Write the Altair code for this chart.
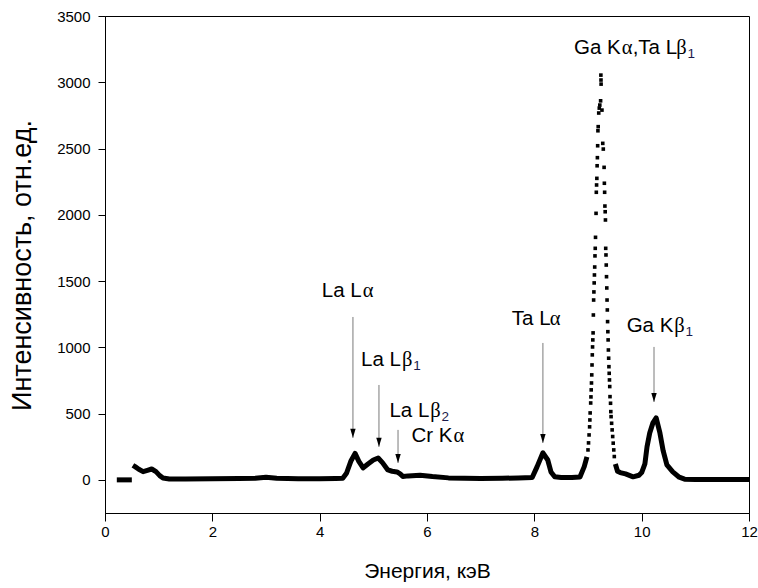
import altair as alt
import pandas as pd

# ---------------- data ----------------
# short zero-level stretch before the trace starts
seg0_energy = [0.22, 0.50]
seg0_counts = [0, 0]
# continuous trace, left of the Ga Ka peak
seg1_energy = [0.52, 0.56, 0.63, 0.71, 0.79, 0.87, 0.95, 1.02,
               1.08, 1.2, 1.5, 2.0, 2.5, 2.8, 3.0, 3.2, 3.6, 4.0,
               4.3, 4.43, 4.50, 4.58, 4.66, 4.73, 4.81, 4.90, 5.00, 5.09,
               5.17, 5.27, 5.35, 5.44, 5.50, 5.55, 5.65, 5.87, 6.1, 6.4,
               6.7, 7.0, 7.4, 7.7, 7.96, 8.05, 8.16, 8.25, 8.31, 8.38,
               8.5, 8.7, 8.85, 8.93, 8.98]
seg1_counts = [110, 100, 80, 62, 72, 82, 62, 32,
               14, 6, 6, 8, 10, 12, 20, 12, 8, 8,
               10, 12, 50, 140, 200, 140, 90, 120, 150, 165,
               130, 75, 65, 60, 45, 25, 30, 35, 25, 15,
               12, 10, 12, 15, 18, 98, 204, 150, 60, 23,
               18, 18, 22, 100, 173]
# continuous trace, right of the Ga Ka peak
seg2_energy = [9.51, 9.55, 9.6, 9.7, 9.84, 9.95, 10.0, 10.06, 10.1, 10.15,
               10.21, 10.27, 10.34, 10.4, 10.47, 10.58, 10.7, 10.8, 11.0, 11.5, 12.0]
seg2_counts = [120, 65, 55, 45, 23, 35, 55, 120, 250, 354,
               430, 468, 354, 220, 113, 60, 20, 5, 3, 2, 2]
# individual samples of the Ga Ka / Ta Lb1 peak (appear as separate dots)
peak_energy = [9.00, 9.01, 9.02, 9.03, 9.035, 9.04, 9.05, 9.055, 9.06, 9.065,
               9.07, 9.075, 9.08, 9.085, 9.09, 9.095, 9.10, 9.105, 9.11, 9.115,
               9.12, 9.125, 9.13, 9.135, 9.14, 9.15, 9.155, 9.16, 9.165, 9.17,
               9.175, 9.18, 9.185, 9.19, 9.20, 9.21, 9.22,
               9.235, 9.24, 9.242, 9.244, 9.26,
               9.275, 9.285, 9.30, 9.305, 9.31, 9.315, 9.32, 9.325, 9.33, 9.335,
               9.34, 9.345, 9.35, 9.355, 9.36, 9.365, 9.37, 9.375, 9.38, 9.385,
               9.39, 9.395, 9.40, 9.405, 9.41, 9.42, 9.425, 9.43, 9.44, 9.45,
               9.46, 9.47, 9.48, 9.49]
peak_counts = [226, 279, 339, 400, 452, 505, 580, 626, 679, 731,
               792, 867, 943, 1003, 1056, 1109, 1244, 1357, 1418, 1486,
               1546, 1606, 1690, 1747, 1830, 2011, 2170, 2225, 2275, 2370,
               2431, 2521, 2634, 2665, 2768, 2805, 2828,
               2860, 3054, 3017, 2986, 2790,
               2539, 2496, 2358, 2238, 2170, 2066, 2023, 1961, 1747, 1697,
               1621, 1533, 1448, 1357, 1282, 1194, 1118, 1056, 980, 918,
               854, 804, 754, 704, 628, 578, 515, 477, 427, 377,
               327, 277, 226, 176]

# annotation arrows
arrow_energy = [4.62, 5.105, 5.46, 8.16, 10.23]
arrow_from = [1229, 716, 377, 1033, 1003]
arrow_to = [317, 249, 128, 279, 588]

# annotation labels: anchor (left edge, baseline) and text parts
label_energy = [4.04, 4.77, 5.30, 5.71, 7.58, 9.72, 8.74]
label_counts = [1378, 858, 477, 284, 1167, 1117, 3213]
label_parts = [
    [("La L", "sans"), ("α", "greek")],
    [("La L", "sans"), ("β", "greek"), ("1", "sub")],
    [("La L", "sans"), ("β", "greek"), ("2", "sub")],
    [("Cr K", "sans"), ("α", "greek")],
    [("Ta L", "sans"), ("α", "greek")],
    [("Ga K", "sans"), ("β", "greek"), ("1", "sub")],
    [("Ga K", "sans"), ("α", "greek"), (",Ta L", "sans"), ("β", "greek"), ("1", "sub")],
]

x_ticks = [0, 2, 4, 6, 8, 10, 12]
y_ticks = [0, 500, 1000, 1500, 2000, 2500, 3000, 3500]

# ---------------- styling ----------------
SANS = "Liberation Sans"
SERIF = "Liberation Serif"
ANN_FS = 20.5
GREEK_FS = 20.5
SUB_FS = 13.5
ARIAL_W = {'L': .556, 'a': .556, ' ': .278, 'T': .611, 'G': .778, 'K': .667,
           'C': .722, 'r': .333, ',': .278, '1': .556, '2': .556}
KERN = {'Ta': -.2}
GREEK_W = {'α': .53, 'β': .50}


def part_width(text, kind):
    if kind == "sans":
        w = sum(ARIAL_W[c] for c in text)
        w += sum(KERN.get(text[i:i + 2], 0) for i in range(len(text) - 1))
        return w * ANN_FS
    if kind == "greek":
        return sum(GREEK_W[c] for c in text) * GREEK_FS
    return sum(ARIAL_W[c] for c in text) * SUB_FS


xs = alt.Scale(domain=[0, 12], nice=False, zero=False)
ys = alt.Scale(domain=[-250, 3500], nice=False, zero=False)

x_axis = alt.Axis(title="Энергия, кэВ", values=x_ticks, format="d", grid=False,
                  tickSize=8, labelPadding=3, labelFlush=False, labelOverlap=False,
                  domainColor="black", tickColor="black", labelColor="black",
                  labelFont=SANS, labelFontSize=15, titleFont=SANS, titleFontSize=21,
                  titleFontWeight="normal", titleColor="black",
                  titleX=322, titleY=58, titleBaseline="middle", titleAlign="center")
y_axis = alt.Axis(title="Интенсивность, отн.ед.", values=y_ticks, format="d", grid=False,
                  tickSize=7, labelPadding=8, labelOverlap=False,
                  domainColor="black", tickColor="black", labelColor="black",
                  labelFont=SANS, labelFontSize=15, titleFont=SANS,
                  titleFontSize=27, titleFontWeight="normal", titleColor="black",
                  titleAngle=270, titleX=-83, titleY=249, titleBaseline="middle",
                  titleAlign="center")

X = alt.X("E:Q", scale=xs, axis=x_axis)
Y = alt.Y("I:Q", scale=ys, axis=y_axis)

line_df = pd.DataFrame({
    "E": seg0_energy + seg1_energy + seg2_energy,
    "I": seg0_counts + seg1_counts + seg2_counts,
    "seg": ["z"] * len(seg0_energy) + ["a"] * len(seg1_energy) + ["b"] * len(seg2_energy),
})
peak_df = pd.DataFrame({"E": peak_energy, "I": peak_counts})
arrow_df = pd.DataFrame({"E": arrow_energy, "I": arrow_from, "I2": arrow_to})
head_df = pd.DataFrame({"E": arrow_energy, "I": arrow_to})

trace = alt.Chart(line_df).mark_line(color="black", strokeWidth=5, strokeJoin="round").encode(
    x=X, y=Y, detail="seg:N", order="E:Q")
dots = alt.Chart(peak_df).mark_square(color="black", size=13, opacity=1).encode(x=X, y=Y)
rules = alt.Chart(arrow_df).mark_rule(color="#7a7a7a", strokeWidth=1).encode(x=X, y=Y, y2="I2:Q")
heads = alt.Chart(head_df).mark_point(shape="M-0.6,-1L0.6,-1L0,1Z", filled=True, fill="black",
                                      strokeWidth=0, opacity=1, size=81, yOffset=-4.5).encode(x=X, y=Y)

layers = [trace, dots, rules, heads]
for e, c, parts in zip(label_energy, label_counts, label_parts):
    off = 0.0
    for text, kind in parts:
        df = pd.DataFrame({"E": [e], "I": [c], "t": [text]})
        if kind == "sans":
            props = dict(font=SANS, fontSize=ANN_FS, dx=off, color="black")
        elif kind == "greek":
            props = dict(font=SERIF, fontSize=GREEK_FS, dx=off + 1, color="black")
        else:
            props = dict(font=SANS, fontSize=SUB_FS, dx=off + 1, dy=4, color="#1a1a4a")
        layers.append(alt.Chart(df).mark_text(align="left", baseline="alphabetic", **props)
                      .encode(x=X, y=Y, text="t:N"))
        off += part_width(text, kind) + (1 if kind != "sans" else 0)

chart = alt.layer(*layers).properties(
    width=644, height=497,
    padding={"left": 105, "top": 16, "right": 9, "bottom": 75},
    autosize="none",
    background="white",
).configure_view(stroke="black", strokeWidth=1)

chart.save("out.html", embed_options={"renderer": "svg", "actions": False})
